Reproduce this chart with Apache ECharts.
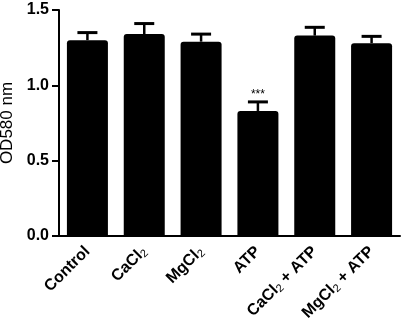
<!DOCTYPE html>
<html>
<head>
<meta charset="utf-8">
<script src="https://cdn.jsdelivr.net/npm/echarts@6/dist/echarts.min.js"></script>
<style>
  html, body { margin: 0; padding: 0; background: #fff; }
  #chart { width: 403px; height: 330px; }
</style>
</head>
<body>
<div id="chart"></div>
<script>
const categories = ['Control', 'CaCl2', 'MgCl2', 'ATP', 'CaCl2 + ATP', 'MgCl2 + ATP']
const means = [1.30, 1.34, 1.29, 0.83, 1.33, 1.28]
const errors = [0.05, 0.07, 0.05, 0.06, 0.055, 0.045]
const significance = ['', '', '', '***', '', '']
const yTicks = [0, 0.5, 1.0, 1.5]

const font = 'Liberation Sans, Arial, sans-serif'

// subscript the 2 in the chloride names
function labelText(v) {
  return '{b|' + v.replace('2', '}{s|2}{b|') + '}'
}

const chart = echarts.init(document.getElementById('chart'))
chart.setOption({
  animation: false,
  grid: { left: 59, right: 3, top: 10, bottom: 94, outerBoundsMode: 'none' },
  xAxis: {
    type: 'category',
    data: categories,
    axisLine: { lineStyle: { color: '#000', width: 2 } },
    axisTick: { alignWithLabel: true, length: 6, lineStyle: { color: '#000', width: 2 } },
    axisLabel: {
      rotate: 45,
      interval: 0,
      margin: 13,
      formatter: labelText,
      rich: {
        b: { fontFamily: font, fontWeight: 'bold', fontSize: 16, color: '#000' },
        s: { fontFamily: font, fontSize: 11, color: '#000', padding: [7, 0, 0, 0] }
      }
    }
  },
  yAxis: {
    type: 'value',
    min: yTicks[0],
    max: yTicks[yTicks.length - 1],
    interval: 0.5,
    name: 'OD580 nm',
    nameLocation: 'middle',
    nameGap: 36,
    nameTextStyle: { fontFamily: font, fontSize: 17, color: '#000' },
    axisLine: { show: true, lineStyle: { color: '#000', width: 2 } },
    axisTick: { show: true, length: 7, lineStyle: { color: '#000', width: 2 } },
    axisLabel: {
      margin: 10,
      fontFamily: font,
      fontWeight: 'bold',
      fontSize: 16,
      color: '#000',
      formatter: v => v.toFixed(1)
    },
    splitLine: { show: false }
  },
  series: [
    {
      type: 'bar',
      data: means,
      barWidth: 41,
      itemStyle: { color: '#000', borderRadius: [3, 3, 0, 0] }
    },
    {
      type: 'custom',
      z: 5,
      data: means.map((m, i) => [i, m, errors[i]]),
      renderItem(params, api) {
        const i = api.value(0)
        const base = api.coord([i, api.value(1)])
        const top = api.coord([i, api.value(1) + api.value(2)])
        const children = [
          { type: 'line', shape: { x1: base[0], y1: base[1], x2: top[0], y2: top[1] },
            style: { stroke: '#000', lineWidth: 2.5 } },
          { type: 'line', shape: { x1: top[0] - 10, y1: top[1], x2: top[0] + 10, y2: top[1] },
            style: { stroke: '#000', lineWidth: 3 } }
        ]
        const sig = significance[params.dataIndex]
        if (sig) {
          children.push({
            type: 'text',
            style: {
              text: sig, x: top[0], y: top[1] - 1,
              align: 'center', verticalAlign: 'bottom',
              fontFamily: font, fontSize: 12, fill: '#000'
            }
          })
        }
        return { type: 'group', children }
      }
    }
  ]
})
</script>
</body>
</html>
